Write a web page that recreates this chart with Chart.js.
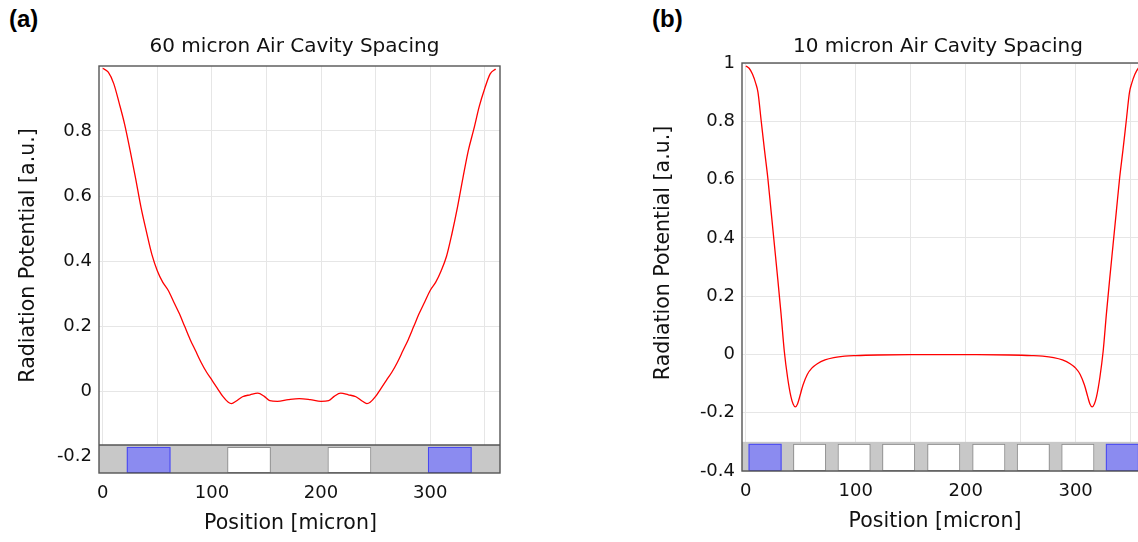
<!DOCTYPE html>
<html>
<head>
<meta charset="utf-8">
<script src="https://cdn.jsdelivr.net/npm/chart.js@4.4.1/dist/chart.umd.min.js"></script>
<style>
html, body { margin: 0; padding: 0; background: #fff; overflow: hidden; width: 1138px; height: 542px; }
.panel { position: absolute; top: 0; height: 542px; }
.tag { position: absolute; font: bold 24px "Liberation Sans", Arial, sans-serif; color: #000; }
</style>
</head>
<body>
<div class="tag" style="left:9px; top:5px">(a)</div>
<div class="tag" style="left:652px; top:5px">(b)</div>
<div class="panel" style="left:0; width:560px"><canvas id="chartA"></canvas></div>
<div class="panel" style="left:620px; width:560px"><canvas id="chartB"></canvas></div>
<script>
// (a) 60 micron spacing, position in micron and potential in a.u.
const posA = [0, 5, 10, 15, 20, 25, 30, 35, 40, 45, 50, 55, 60, 65, 70, 75, 80, 85, 90, 95, 100, 105, 110, 115, 118, 122, 128, 135, 142, 148, 153, 160, 170, 180, 190, 200, 207, 212, 218, 225, 232, 238, 242, 245, 250, 255, 260, 265, 270, 275, 280, 285, 290, 295, 300, 305, 310, 315, 320, 325, 330, 335, 340, 345, 350, 355, 360];
const potA = [0.992, 0.98, 0.945, 0.885, 0.82, 0.74, 0.655, 0.565, 0.49, 0.42, 0.37, 0.335, 0.31, 0.275, 0.24, 0.2, 0.16, 0.125, 0.09, 0.06, 0.035, 0.01, -0.015, -0.033, -0.037, -0.03, -0.016, -0.01, -0.005, -0.015, -0.028, -0.03, -0.025, -0.022, -0.025, -0.03, -0.028, -0.015, -0.005, -0.01, -0.016, -0.03, -0.037, -0.033, -0.015, 0.01, 0.035, 0.06, 0.09, 0.125, 0.16, 0.2, 0.24, 0.275, 0.31, 0.335, 0.37, 0.415, 0.485, 0.565, 0.655, 0.74, 0.805, 0.875, 0.93, 0.975, 0.99];

// (b) 10 micron spacing
const posB = [0, 3, 6, 9, 11, 14, 17, 20, 23, 26, 29, 32, 35, 38, 41, 43, 45, 47, 49, 52, 56, 60, 65, 72, 80, 90, 100, 120, 150, 180, 210, 240, 260, 270, 280, 288, 295, 300, 304, 308, 311, 313, 315, 317, 319, 322, 325, 328, 331, 334, 337, 340, 343, 346, 349, 351, 354, 357, 360];
const potB = [0.99, 0.982, 0.962, 0.93, 0.9, 0.8, 0.7, 0.605, 0.49, 0.375, 0.26, 0.14, 0.01, -0.08, -0.145, -0.17, -0.18, -0.17, -0.145, -0.105, -0.068, -0.047, -0.032, -0.019, -0.011, -0.006, -0.004, -0.002, -0.001, -0.001, -0.001, -0.002, -0.004, -0.006, -0.011, -0.019, -0.032, -0.047, -0.068, -0.105, -0.145, -0.17, -0.18, -0.17, -0.145, -0.08, 0.01, 0.14, 0.26, 0.375, 0.49, 0.605, 0.7, 0.8, 0.9, 0.93, 0.962, 0.982, 0.99];

// device strip under each plot: [start, end] in micron
const blueA = [[22, 62], [298, 338]];
const whiteA = [[114, 154], [206, 246]];
const blueB = [[2.5, 32.5], [327.5, 357.5]];
const whiteB = [[43, 73], [83.5, 113.5], [124, 154], [165, 195], [206, 236], [246.5, 276.5], [287, 317]];

const yTicksA = [-0.2, 0, 0.2, 0.4, 0.6, 0.8];
const yTicksB = [-0.4, -0.2, 0, 0.2, 0.4, 0.6, 0.8, 1];
const xTickLabels = [0, 100, 200, 300];

const FONT = '"DejaVu Sans", Verdana, sans-serif';

const stripPlugin = {
    id: 'strip',
    beforeDatasetsDraw(chart, args, opts) {
        const { ctx, chartArea: a, scales: { x, y } } = chart;
        const top = y.getPixelForValue(opts.top);
        ctx.save();
        ctx.beginPath();
        ctx.rect(a.left, a.top, a.width, a.height);
        ctx.clip();
        ctx.fillStyle = '#c8c8c8';
        ctx.fillRect(a.left, top, a.width, a.bottom - top);
        ctx.lineWidth = 1;
        opts.white.forEach(b => {
            const x0 = x.getPixelForValue(b[0]), x1 = x.getPixelForValue(b[1]);
            ctx.fillStyle = '#ffffff';
            ctx.fillRect(x0, top + 2, x1 - x0, a.bottom - top - 2);
            ctx.strokeStyle = '#8c8c8c';
            ctx.strokeRect(x0 + 0.5, top + 2.5, x1 - x0 - 1, a.bottom - top - 3);
        });
        opts.blue.forEach(b => {
            const x0 = x.getPixelForValue(b[0]), x1 = x.getPixelForValue(b[1]);
            ctx.fillStyle = '#8b8bf0';
            ctx.fillRect(x0, top + 2, x1 - x0, a.bottom - top - 2);
            ctx.strokeStyle = '#4848f0';
            ctx.strokeRect(x0 + 0.5, top + 2.5, x1 - x0 - 1, a.bottom - top - 3);
        });
        if (opts.topLine) {
            ctx.strokeStyle = '#555';
            ctx.lineWidth = 1.5;
            ctx.beginPath();
            ctx.moveTo(a.left, top);
            ctx.lineTo(a.right, top);
            ctx.stroke();
        }
        ctx.restore();
    },
    afterDatasetsDraw(chart) {
        const { ctx, chartArea: a } = chart;
        ctx.save();
        ctx.strokeStyle = '#555';
        ctx.lineWidth = 1.4;
        ctx.strokeRect(a.left, a.top, a.width, a.height);
        ctx.restore();
    },
    afterDraw(chart, args, opts) {
        const { ctx, chartArea: a } = chart;
        const cx = (a.left + a.right) / 2;
        const cy = (a.top + a.bottom) / 2;
        ctx.save();
        ctx.fillStyle = '#111';
        ctx.textAlign = 'center';
        ctx.textBaseline = 'middle';
        ctx.font = '20px ' + FONT;
        ctx.fillText(opts.title, cx + opts.titleShift, a.top - opts.titleGap);
        // axis titles
        ctx.font = '20.5px ' + FONT;
        ctx.fillText('Position [micron]', cx - 9, a.bottom + 51);
        ctx.translate(a.left - opts.yTitleGap, cy - 14);
        ctx.rotate(-Math.PI / 2);
        ctx.fillText('Radiation Potential [a.u.]', 0, 0);
        ctx.restore();
    }
};

function drawPanel(id, p) {
    const points = p.pos.map((v, i) => ({ x: v, y: p.pot[i] }));
    return new Chart(document.getElementById(id), {
        type: 'line',
        data: {
            datasets: [{
                data: points,
                borderColor: '#ff0000',
                borderWidth: 1.3,
                pointRadius: 0,
                cubicInterpolationMode: 'monotone',
                fill: false
            }]
        },
        options: {
            responsive: true,
            maintainAspectRatio: false,
            animation: false,
            layout: { padding: { top: p.top, right: p.right, left: 0, bottom: 0 } },
            plugins: {
                legend: { display: false },
                tooltip: { enabled: false },
                strip: {
                    top: p.stripTop, blue: p.blue, white: p.white, topLine: p.topLine,
                    title: p.title, titleShift: p.titleShift, titleGap: p.titleGap, yTitleGap: p.yTitleGap
                }
            },
            scales: {
                x: {
                    type: 'linear',
                    min: -3.5,
                    max: 364,
                    afterFit: s => { s.height = p.xAxisHeight; },
                    grid: { color: '#e6e6e6', drawTicks: false },
                    border: { display: false },
                    ticks: {
                        stepSize: 50,
                        includeBounds: false,
                        padding: 10,
                        maxRotation: 0,
                        autoSkip: false,
                        color: '#111',
                        font: { family: FONT, size: 18 },
                        callback: v => xTickLabels.includes(v) ? String(v) : ''
                    }
                },
                y: {
                    type: 'linear',
                    min: p.yMin,
                    max: p.yMax,
                    afterFit: s => { s.width = p.yAxisWidth; },
                    grid: { color: '#e6e6e6', drawTicks: false },
                    border: { display: false },
                    afterBuildTicks: s => { s.ticks = p.yTicks.map(v => ({ value: v })); },
                    ticks: {
                        padding: 7,
                        color: '#111',
                        font: { family: FONT, size: 18 },
                        callback: v => String(Math.round(v * 10) / 10)
                    }
                }
            }
        },
        plugins: [stripPlugin]
    });
}

drawPanel('chartA', {
    pos: posA, pot: potA, yMin: -0.25, yMax: 0.999, yTicks: yTicksA,
    stripTop: -0.164, blue: blueA, white: whiteA, topLine: true,
    title: '60 micron Air Cavity Spacing', titleShift: -5, titleGap: 19, yTitleGap: 70,
    top: 66, right: 60, yAxisWidth: 99, xAxisHeight: 69
});

drawPanel('chartB', {
    pos: posB, pot: potB, yMin: -0.4, yMax: 1, yTicks: yTicksB,
    stripTop: -0.3, blue: blueB, white: whiteB, topLine: false,
    title: '10 micron Air Cavity Spacing', titleShift: -6, titleGap: 16, yTitleGap: 78,
    top: 63, right: 34, yAxisWidth: 122, xAxisHeight: 71
});
</script>
</body>
</html>
